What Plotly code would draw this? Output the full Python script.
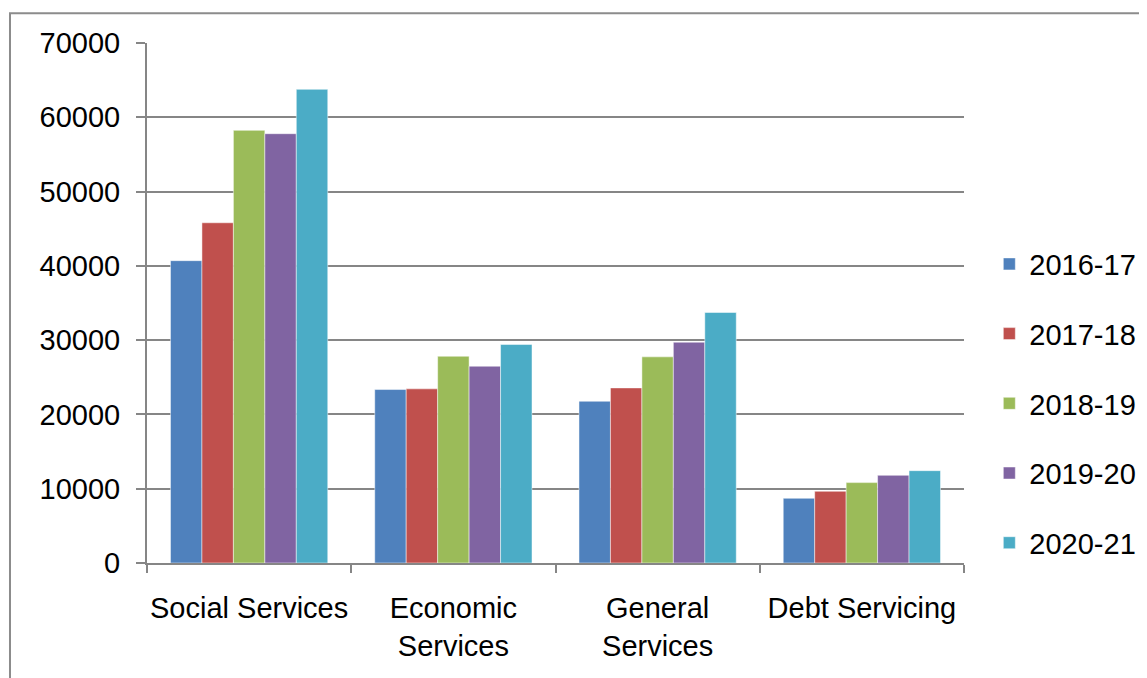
import plotly.graph_objects as go

categories = ["Social Services", "Economic<br>Services", "General<br>Services", "Debt Servicing"]
years = ["2016-17", "2017-18", "2018-19", "2019-20", "2020-21"]
v_2016_17 = [40700, 23350, 21770, 8710]
v_2017_18 = [45800, 23440, 23570, 9650]
v_2018_19 = [58240, 27830, 27750, 10820]
v_2019_20 = [57790, 26490, 29720, 11800]
v_2020_21 = [63760, 29410, 33720, 12430]
series = [v_2016_17, v_2017_18, v_2018_19, v_2019_20, v_2020_21]
colors = ["#4F81BD", "#C0504D", "#9BBB59", "#8064A2", "#4BACC6"]
y_ticks = [0, 10000, 20000, 30000, 40000, 50000, 60000, 70000]
y_tick_labels = ["0", "10000", "20000", "30000", "40000", "50000", "60000", "70000"]

FONT = "Liberation Sans, Arial, sans-serif"
GRID = "#868686"

fig = go.Figure()
for name, vals, col in zip(years, series, colors):
    fig.add_trace(go.Bar(
        x=categories, y=vals, name=name, legendgroup=name,
        marker=dict(color=col, line=dict(color="rgba(255,255,255,0.6)", width=0.8)),
    ))

fig.update_layout(
    width=1147, height=678,
    margin=dict(l=139, r=191, t=35, b=123),
    paper_bgcolor="white", plot_bgcolor="white",
    font=dict(family=FONT, size=29, color="black"),
    barmode="group", bargap=0.23, bargroupgap=0,
    showlegend=True,
    legend=dict(
        x=1.031, xanchor="left", y=0.3066, yanchor="middle",
        font=dict(size=29), tracegroupgap=29, itemwidth=30,
        bgcolor="rgba(0,0,0,0)",
    ),
    xaxis=dict(
        showline=True, linecolor=GRID, linewidth=2,
        ticks="outside", tickson="boundaries", ticklen=8, tickcolor=GRID, tickwidth=2,
        showgrid=False, ticklabelstandoff=18, tickangle=0, automargin=False,
        tickfont=dict(size=29),
    ),
    yaxis=dict(
        range=[0, 70000], tickvals=y_ticks, ticktext=y_tick_labels,
        showline=True, linecolor=GRID, linewidth=2,
        ticks="outside", ticklen=9, tickcolor=GRID, tickwidth=2,
        showgrid=True, gridcolor=GRID, gridwidth=1.5,
        zeroline=False, ticklabelstandoff=10, automargin=False,
        tickfont=dict(size=29),
    ),
)

# outer chart frame
fig.add_shape(type="rect", xref="paper", yref="paper",
              x0=-0.1677, x1=1.25, y0=-0.26, y1=1.0572,
              line=dict(color="#8C8C8C", width=2), fillcolor="rgba(0,0,0,0)", layer="below")

fig.write_html("out.html")
